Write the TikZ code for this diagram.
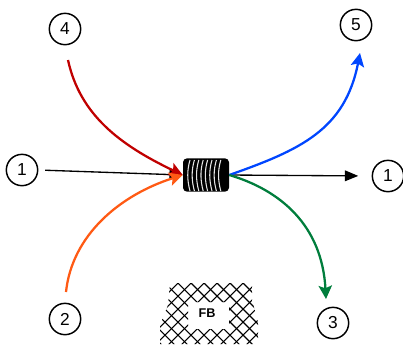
\documentclass[tikz,border=0pt]{standalone}
\usepackage{fontspec}
\setmainfont{Liberation Sans}
\usetikzlibrary{arrows.meta}
\definecolor{cred}{RGB}{192,0,0}
\definecolor{corange}{RGB}{255,90,20}
\definecolor{cblue}{RGB}{0,70,255}
\definecolor{cgreen}{RGB}{0,125,60}
\begin{document}
\begin{tikzpicture}[x=0.75pt,y=-0.75pt,
  num/.style={circle,draw=black,line width=1.1pt,fill=white,minimum size=23.5pt,inner sep=0pt,font=\fontsize{13}{15}\selectfont},
  conn/.style={line width=1.7pt,-{Stealth[length=10pt,width=10pt,inset=2pt]}},
  plain/.style={line width=1pt,black,-{Triangle[length=10pt,width=8pt]}},
  coilbody/.style={fill=black,rounded corners=3pt,minimum width=34.5pt,minimum height=25pt,inner sep=0pt}]
\useasboundingbox (0,0) rectangle (403,347);
\node[num] (n4) at (65,29) {4};
\node[num] (n5) at (356,25) {5};
\node[num] (l1) at (22,170) {1};
\node[num] (r1) at (388,176) {1};
\node[num] (n2) at (65,319) {2};
\node[num] (n3) at (333,323) {3};
\coordinate (s4) at (68,60);
\coordinate (s2) at (66,292);
\coordinate (e5) at (360,53);
\coordinate (e3) at (326,299);
% coil
\node[coilbody] (coil) at (206,175) {};
\foreach \x in {190,194.4,...,222}{
  \draw[white!90!black,line width=0.8pt] (\x,160) .. controls (\x-3,170) and (\x-3,180) .. (\x,191);
}
% connectors
\draw[plain,shorten <=5pt] (l1.east) -- (coil.west);
\draw[plain,shorten >=10pt] (coil.east) -- (r1.west);
\draw[conn,cred] (s4) .. controls (80,115) and (120,145) .. (coil.west);
\draw[conn,corange] (s2) .. controls (72,235) and (120,195) .. (coil.west);
\draw[conn,cblue] (coil.east) .. controls (300,150) and (345,130) .. (e5);
\draw[conn,cgreen] (coil.east) .. controls (280,190) and (322,225) .. (e3);
% mesh
\begin{scope}[even odd rule]
  \clip (170,283) -- (252,283) -- (252,300) -- (258,322) -- (258,344) -- (160,344) -- (160,325) -- (168,305) -- cycle
     (188,302) rectangle (229,329);
  \foreach \k in {-30,-17,...,400}{
    \draw[black,line width=0.8pt] (\k,283) -- (\k+65,348);
    \draw[black,line width=0.8pt] (\k+65,283) -- (\k,348);
  }
\end{scope}
\node[font=\bfseries\fontsize{9.5}{11}\selectfont,inner sep=1pt] (fb) at (207,313) {FB};
\end{tikzpicture}
\end{document}
